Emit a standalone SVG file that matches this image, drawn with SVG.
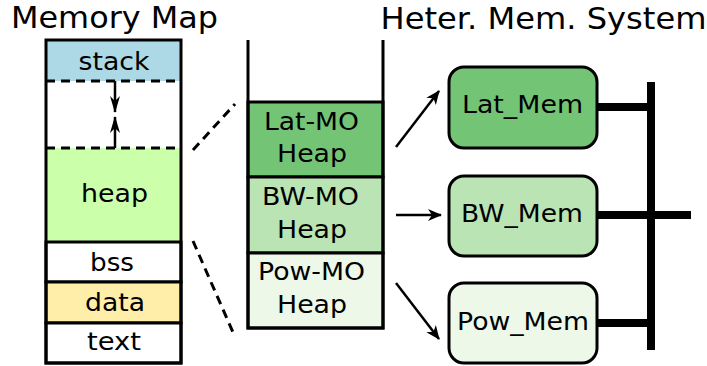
<svg xmlns="http://www.w3.org/2000/svg" width="707" height="366" viewBox="0 0 707 366">
<style>
text{font-family:"DejaVu Sans",sans-serif;fill:#000;text-anchor:middle}
.t{font-size:29.5px}
.l{font-size:24.5px}
.seg{stroke:#000;stroke-width:3}
.dash{stroke:#000;stroke-width:3;stroke-dasharray:9,6;fill:none}
.arr{stroke:#000;stroke-width:2.5;fill:none;marker-end:url(#ah)}
.box{stroke:#000;stroke-width:3}
.bus{stroke:#000;stroke-width:8;fill:none}
</style>
<defs>
<marker id="ah" viewBox="0 0 14 12" refX="13" refY="6" markerWidth="14" markerHeight="12" markerUnits="userSpaceOnUse" orient="auto">
<path d="M0,0 L14,6 L0,12 L4,6 Z" fill="#000"/>
</marker>
<marker id="ah2" viewBox="0 0 17 10" refX="16" refY="5" markerWidth="17" markerHeight="10" markerUnits="userSpaceOnUse" orient="auto">
<path d="M0,0 L17,5 L0,10 L5,5 Z" fill="#000"/>
</marker>
</defs>
<text class="t" x="114.5" y="28" textLength="207" lengthAdjust="spacingAndGlyphs">Memory Map</text>
<text class="t" x="543.5" y="29" textLength="326" lengthAdjust="spacingAndGlyphs">Heter. Mem. System</text>
<g id="memory-map">
<rect x="46" y="40" width="135" height="41" fill="#add8e6"/>
<rect x="46" y="81" width="135" height="67" fill="#fff"/>
<rect x="46" y="148" width="135" height="94" fill="#ccffaa"/>
<rect x="46" y="242" width="135" height="40" fill="#fff" class="seg"/>
<rect x="46" y="282" width="135" height="41" fill="#ffeeaa" class="seg"/>
<rect x="46" y="323" width="135" height="40" fill="#fff" class="seg"/>
<line x1="46" y1="81" x2="181" y2="81" class="dash"/>
<line x1="46" y1="148" x2="181" y2="148" class="dash"/>
<rect x="46" y="40" width="135" height="323" fill="none" class="seg"/>
<line x1="115" y1="81" x2="115" y2="112" stroke="#000" stroke-width="2.5" marker-end="url(#ah2)"/>
<line x1="115" y1="148" x2="115" y2="117" stroke="#000" stroke-width="2.5" marker-end="url(#ah2)"/>
<text class="l" x="114" y="70" textLength="71" lengthAdjust="spacingAndGlyphs">stack</text>
<text class="l" x="114.5" y="202" textLength="67" lengthAdjust="spacingAndGlyphs">heap</text>
<text class="l" x="112" y="271" textLength="44" lengthAdjust="spacingAndGlyphs">bss</text>
<text class="l" x="115" y="311" textLength="60" lengthAdjust="spacingAndGlyphs">data</text>
<text class="l" x="114" y="350" textLength="54" lengthAdjust="spacingAndGlyphs">text</text>
</g>
<g id="heap-split">
<rect x="248" y="102" width="135" height="75" fill="#74c476" class="seg"/>
<rect x="248" y="177" width="135" height="76" fill="#bae4b3" class="seg"/>
<rect x="248" y="253" width="135" height="75" fill="#edf8e9" class="seg"/>
<polyline points="248,40 248,328 383,328 383,40" fill="none" class="seg"/>
<text class="l" x="311.5" y="130" textLength="95" lengthAdjust="spacingAndGlyphs">Lat-MO</text>
<text class="l" x="312" y="162" textLength="70" lengthAdjust="spacingAndGlyphs">Heap</text>
<text class="l" x="310.5" y="205" textLength="97" lengthAdjust="spacingAndGlyphs">BW-MO</text>
<text class="l" x="312" y="238" textLength="70" lengthAdjust="spacingAndGlyphs">Heap</text>
<text class="l" x="311.5" y="280" textLength="107" lengthAdjust="spacingAndGlyphs">Pow-MO</text>
<text class="l" x="312" y="313" textLength="70" lengthAdjust="spacingAndGlyphs">Heap</text>
</g>
<g id="lat-mem">
<rect x="449" y="67" width="148" height="81" rx="15" fill="#74c476" class="box"/>
<text class="l" x="522.5" y="113" textLength="121" lengthAdjust="spacingAndGlyphs">Lat_Mem</text>
</g>
<g id="bw-mem">
<rect x="449" y="176" width="148" height="80" rx="15" fill="#bae4b3" class="box"/>
<text class="l" x="522" y="222" textLength="122" lengthAdjust="spacingAndGlyphs">BW_Mem</text>
</g>
<g id="pow-mem">
<rect x="449" y="283" width="148" height="80" rx="15" fill="#edf8e9" class="box"/>
<text class="l" x="523" y="330" textLength="132" lengthAdjust="spacingAndGlyphs">Pow_Mem</text>
</g>
<g id="connectors">
<line x1="193" y1="150" x2="235" y2="104" class="dash"/>
<line x1="193" y1="241" x2="235" y2="337" class="dash"/>
<line x1="396" y1="147" x2="439" y2="91" class="arr"/>
<line x1="396" y1="215" x2="441" y2="215" class="arr"/>
<line x1="396" y1="283" x2="439" y2="339" class="arr"/>
<line x1="651" y1="82" x2="651" y2="350" class="bus"/>
<line x1="597" y1="107" x2="651" y2="107" class="bus"/>
<line x1="597" y1="215" x2="691" y2="215" class="bus"/>
<line x1="597" y1="323" x2="651" y2="323" class="bus"/>
</g>
</svg>
